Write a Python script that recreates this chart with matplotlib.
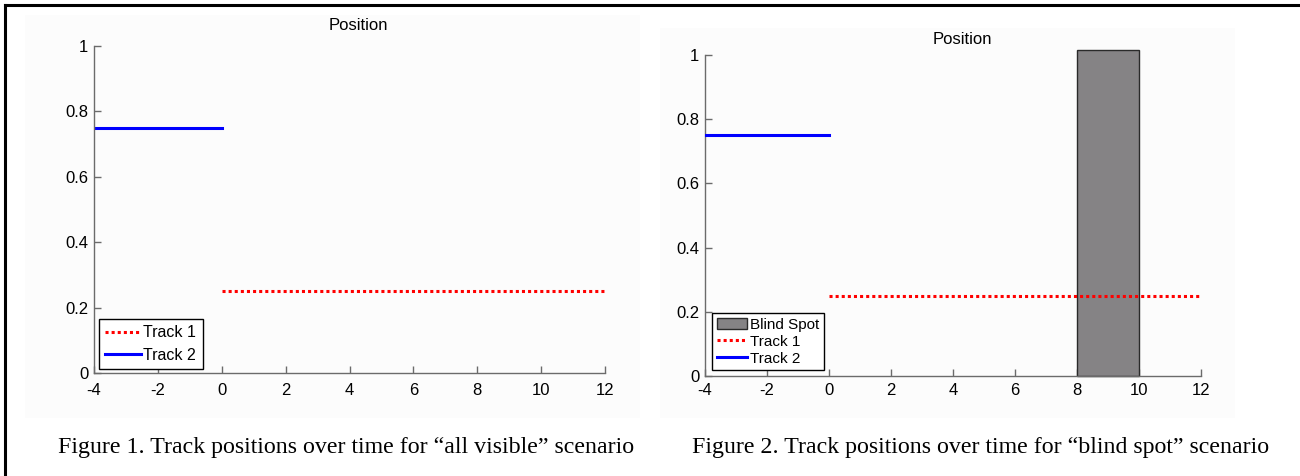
import matplotlib
matplotlib.use("Agg")
import matplotlib.pyplot as plt
from matplotlib.patches import Rectangle
from matplotlib.lines import Line2D

# Data
track1_x = [0, 12]
track1_y = [0.25, 0.25]
track2_x = [-4, 0]
track2_y = [0.75, 0.75]
blind_x0, blind_x1 = 8, 10
blind_top = 1.015
xticks = [-4, -2, 0, 2, 4, 6, 8, 10, 12]
yticks = [0, 0.2, 0.4, 0.6, 0.8, 1]
ytick_labels = ["0", "0.2", "0.4", "0.6", "0.8", "1"]
title = "Position"
caption1 = "Figure 1. Track positions over time for \u201call visible\u201d scenario"
caption2 = "Figure 2. Track positions over time for \u201cblind spot\u201d scenario"

W, H = 1300, 476
fig = plt.figure(figsize=(13, 4.76), dpi=100)
fig.patch.set_facecolor("white")

def px(x0, y0, x1, y1):
    return [x0 / W, 1 - y1 / H, (x1 - x0) / W, (y1 - y0) / H]

# faint MATLAB figure background
fig.patches.append(Rectangle((25 / W, 1 - 418 / H), (640 - 25) / W, (418 - 15) / H,
                             transform=fig.transFigure, facecolor="#fcfcfc", edgecolor="none", zorder=-10))
fig.patches.append(Rectangle((660 / W, 1 - 418 / H), (1235 - 660) / W, (418 - 28) / H,
                             transform=fig.transFigure, facecolor="#fcfcfc", edgecolor="none", zorder=-10))

# outer border lines (top and left)
fig.add_artist(Line2D([5 / W, 1], [1 - 5 / H, 1 - 5 / H], transform=fig.transFigure, color="black", lw=2.2))
fig.add_artist(Line2D([5 / W, 5 / W], [0, 1 - 5 / H], transform=fig.transFigure, color="black", lw=2.2))

font = ["Liberation Sans", "DejaVu Sans"]
spine_color = "#6b6b6b"
FS = 12

def style(ax, xpad):
    ax.set_xlim(-4, 12)
    ax.set_ylim(0, 1)
    ax.set_xticks(xticks)
    ax.set_xticklabels([str(t) for t in xticks], family=font, fontsize=FS)
    ax.set_yticks(yticks)
    ax.set_yticklabels(ytick_labels, family=font, fontsize=FS)
    for s in ["top", "right"]:
        ax.spines[s].set_visible(False)
    for s in ["left", "bottom"]:
        ax.spines[s].set_color(spine_color)
        ax.spines[s].set_linewidth(1.0)
    ax.tick_params(direction="in", length=5, width=1, color=spine_color, pad=4)
    ax.tick_params(axis="x", pad=xpad)
    ax.patch.set_alpha(0)

# Left panel
ax1 = fig.add_axes(px(94, 46, 605, 373))
style(ax1, 7)
ax1.plot(track1_x, track1_y, color="red", linestyle=(0, (1, 1)), lw=2.2, label="Track 1")
ax1.plot(track2_x, track2_y, color="blue", linestyle="-", lw=2.2, label="Track 2")
leg1 = ax1.legend(loc="lower left", bbox_to_anchor=(0.01, 0.012), prop={"family": font, "size": 11.5},
                  frameon=True, fancybox=False, edgecolor="black", handlelength=2.25,
                  handletextpad=0.12, borderpad=0.4, labelspacing=0.45, borderaxespad=0,
                  framealpha=1)
leg1.get_frame().set_linewidth(1.0)
fig.text(358 / W, 1 - 26 / H, title, ha="center", va="center", family=font, fontsize=FS)

# Right panel
ax2 = fig.add_axes(px(705, 55, 1201, 376))
style(ax2, 5)
hb = ax2.bar([(blind_x0 + blind_x1) / 2], [blind_top], width=blind_x1 - blind_x0,
             color="#858385", edgecolor="#2a2a2a", linewidth=1.0, label="Blind Spot", clip_on=False, zorder=2)
h1, = ax2.plot(track1_x, track1_y, color="red", linestyle=(0, (1, 1)), lw=2.2, label="Track 1", zorder=3)
h2, = ax2.plot(track2_x, track2_y, color="blue", linestyle="-", lw=2.2, label="Track 2", zorder=3)
leg2 = ax2.legend(handles=[hb, h1, h2], loc="lower left", bbox_to_anchor=(0.014, 0.018),
                  prop={"family": font, "size": 11},
                  frameon=True, fancybox=False, edgecolor="black", handlelength=2.0,
                  handletextpad=0.2, borderpad=0.3, labelspacing=0.2, borderaxespad=0,
                  framealpha=1)
leg2.get_frame().set_linewidth(1.0)
fig.text(962 / W, 1 - 39 / H, title, ha="center", va="center", family=font, fontsize=FS)

# Captions
serif = ["Liberation Serif", "DejaVu Serif"]
fig.text(346 / W, 1 - 448 / H, caption1, ha="center", va="center", family=serif, fontsize=17.2)
fig.text(981 / W, 1 - 448 / H, caption2, ha="center", va="center", family=serif, fontsize=17.2)

fig.savefig("out.png", dpi=100, facecolor="white")
